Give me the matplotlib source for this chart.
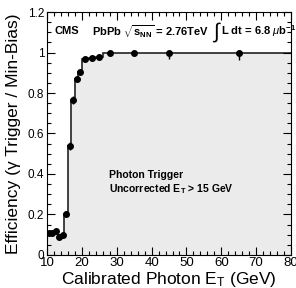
import numpy as np
import matplotlib
matplotlib.use("Agg")
import matplotlib.pyplot as plt
from matplotlib.ticker import MultipleLocator

plt.rcParams['font.family'] = ['Liberation Sans', 'DejaVu Sans']
plt.rcParams['mathtext.fontset'] = 'custom'
plt.rcParams['mathtext.rm'] = 'Liberation Sans'
plt.rcParams['mathtext.it'] = 'Liberation Sans:italic'
plt.rcParams['mathtext.bf'] = 'Liberation Sans:bold'

# bin edges and efficiency per bin
bin_edges = [10, 11, 12, 13, 14, 15, 16, 17, 18, 19, 20, 22, 24, 26, 30, 40, 50, 80]
efficiency = [0.11, 0.11, 0.12, 0.09, 0.10, 0.20, 0.54, 0.765, 0.87, 0.905,
              0.967, 0.975, 0.98, 1.0, 1.0, 1.0, 1.0]
err_low = [0.01, 0.01, 0.01, 0.01, 0.01, 0.015, 0.02, 0.02, 0.015, 0.015,
           0.01, 0.01, 0.01, 0.005, 0.005, 0.03, 0.035]
err_high = [0.01, 0.01, 0.01, 0.01, 0.01, 0.015, 0.02, 0.02, 0.015, 0.015,
            0.01, 0.01, 0.01, 0.0, 0.0, 0.0, 0.0]

edges = np.array(bin_edges, dtype=float)
centers = 0.5 * (edges[:-1] + edges[1:])
eff = np.array(efficiency)

fig = plt.figure(figsize=(2.96, 2.88), dpi=100)
ax = fig.add_axes([0.159, 0.115, 0.824, 0.843])

# filled step histogram
step_y = np.append(eff, eff[-1])
ax.fill_between(edges, 0, step_y, step='post', color='#ebebeb', lw=0)
ax.stairs(eff, edges, color='#222222', lw=1.2, baseline=None)

# points with errors
ax.errorbar(centers, eff, yerr=[err_low, err_high], fmt='o', color='black',
            ms=4, elinewidth=1, capsize=0)

ax.set_xlim(10, 80)
ax.set_ylim(0, 1.2)
ax.xaxis.set_major_locator(MultipleLocator(10))
ax.xaxis.set_minor_locator(MultipleLocator(2))
ax.yaxis.set_major_locator(MultipleLocator(0.2))
ax.yaxis.set_minor_locator(MultipleLocator(0.05))
ax.set_yticks([0, 0.2, 0.4, 0.6, 0.8, 1.0, 1.2])
ax.set_yticklabels(['0', '0.2', '0.4', '0.6', '0.8', '1', '1.2'])
ax.tick_params(which='both', direction='in', top=True, right=True, width=0.8)
ax.tick_params(which='major', length=6)
ax.tick_params(which='minor', length=3)
ax.tick_params(axis='x', labelsize=9.5, pad=1.5)
ax.tick_params(axis='y', labelsize=8.5, pad=2)

ax.set_xlabel(r"Calibrated Photon E$_{\mathrm{T}}$ (GeV)", fontsize=12.5, labelpad=1)
ax.set_ylabel("Efficiency (γ Trigger / Min-Bias)", fontsize=12.5, labelpad=5)

# annotations
ax.text(12.2, 1.105, "CMS", fontsize=8, fontweight='bold', va='center')
ax.text(23.0, 1.105, r"PbPb $\sqrt{\mathbf{s}_{\mathbf{NN}}}$ = 2.76TeV",
        fontsize=8, fontweight='bold', va='center')
ax.text(57.2, 1.10, r"$\int$", fontsize=15, va='center')
ax.text(59.8, 1.105, r"L dt = 6.8 $\mu$b$^{\mathbf{-1}}$",
        fontsize=8, fontweight='bold', va='center')
ax.text(27.7, 0.395, "Photon Trigger", fontsize=7.5, fontweight='bold', va='center')
ax.text(27.7, 0.325, r"Uncorrected E$_{\mathbf{T}}$ > 15 GeV", fontsize=7.5,
        fontweight='bold', va='center')

fig.savefig("out.png", dpi=100)
